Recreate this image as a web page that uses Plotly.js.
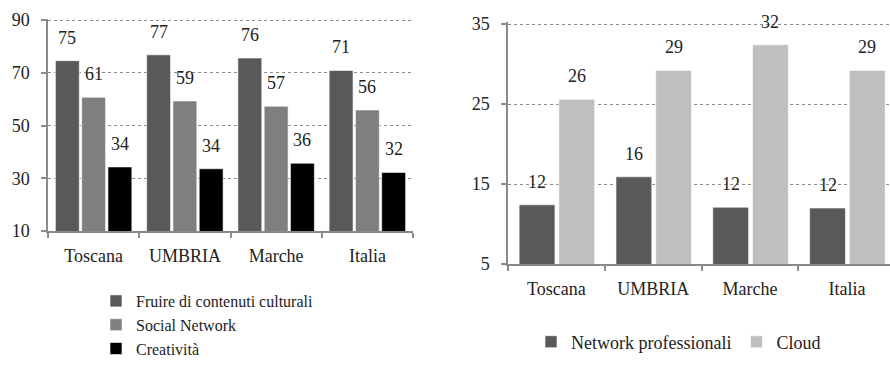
<!DOCTYPE html>
<html>
<head>
<meta charset="utf-8">
<script src="https://cdn.plot.ly/plotly-3.0.1.min.js"></script>
<style>
html, body { margin: 0; padding: 0; background: #ffffff; overflow: hidden; font-family: 'Liberation Serif', serif; }
#chart { width: 890px; height: 366px; font-family: 'Liberation Serif', serif; }
</style>
</head>
<body>
<div id="chart"></div>
<script>
// ---- data ----
const categories = ["Toscana", "UMBRIA", "Marche", "Italia"];

const fruireCulturali = [74.6, 76.8, 75.6, 70.9];
const socialNetwork   = [60.7, 59.3, 57.3, 55.9];
const creativita      = [34.3, 33.6, 35.7, 32.2];

const networkProfessionali = [12.4, 15.9, 12.1, 12.0];
const cloud                = [25.6, 29.2, 32.4, 29.2];

const leftNames  = ["Fruire di contenuti culturali", "Social Network", "Creatività"];
const rightNames = ["Network professionali", "Cloud"];

// ---- style ----
const FONT = "Liberation Serif, serif";
const TXT = "#222222";
const AX = "#8a8a8a";
const leftColors  = ["#595959", "#7f7f7f", "#000000"];
const rightColors = ["#595959", "#bfbfbf"];

const leftW = 0.262, leftOff = [-0.419, -0.131, 0.157];
const rightW = 0.37, rightOff = [-0.385, 0.025];

const leftSeries = [fruireCulturali, socialNetwork, creativita];
const rightSeries = [networkProfessionali, cloud];

const traces = [];
const annotations = [];

leftSeries.forEach((vals, k) => {
  traces.push({
    type: "bar", x: categories, y: vals, name: leftNames[k],
    xaxis: "x", yaxis: "y", legend: "legend",
    width: leftW, offset: leftOff[k],
    marker: { color: leftColors[k], line: { color: "#ffffff", width: 0.6 } },
    hoverinfo: "skip"
  });
  vals.forEach((v, i) => {
    annotations.push({
      xref: "x", yref: "y", x: i + leftOff[k] + leftW / 2, y: v,
      text: v.toFixed(0), showarrow: false, yshift: 23,
      font: { size: 18 }
    });
  });
});

rightSeries.forEach((vals, k) => {
  traces.push({
    type: "bar", x: categories, y: vals, name: rightNames[k],
    xaxis: "x2", yaxis: "y2", legend: "legend2",
    width: rightW, offset: rightOff[k],
    marker: { color: rightColors[k], line: { color: "#ffffff", width: 0.6 } },
    hoverinfo: "skip"
  });
  vals.forEach((v, i) => {
    annotations.push({
      xref: "x2", yref: "y2", x: i + rightOff[k] + rightW / 2, y: v,
      text: v.toFixed(0), showarrow: false, yshift: 23,
      font: { size: 18 }
    });
  });
});

function xAxis(domain, range, anchor) {
  return {
    domain: domain, anchor: anchor, type: "category", range: range,
    showline: true, linecolor: AX, linewidth: 1.5,
    ticks: "outside", tickson: "boundaries", ticklen: 5, tickcolor: AX, tickwidth: 1.5,
    ticklabelstandoff: 8, tickangle: 0,
    showgrid: false, zeroline: false, automargin: false, fixedrange: true,
    tickfont: { size: 18 }
  };
}
function yAxis(domain, range, tick0, dtick, anchor) {
  return {
    domain: domain, anchor: anchor, range: range, tick0: tick0, dtick: dtick,
    showline: true, linecolor: AX, linewidth: 1.5,
    ticks: "outside", ticklen: 5, tickcolor: AX, tickwidth: 1.5,
    ticklabelstandoff: 8,
    showgrid: true, gridcolor: AX, griddash: "dot", gridwidth: 1.2,
    zeroline: false, automargin: false, fixedrange: true,
    tickfont: { size: 18 }
  };
}

const layout = {
  width: 890, height: 366,
  margin: { l: 0, r: 0, t: 0, b: 0, pad: 0 },
  paper_bgcolor: "#ffffff", plot_bgcolor: "rgba(0,0,0,0)",
  barmode: "overlay",
  font: { family: FONT, size: 18, color: TXT },
  xaxis: xAxis([48 / 890, 413 / 890], [-0.5, 3.5], "y"),
  yaxis: yAxis([(366 - 231) / 366, (366 - 18.7) / 366], [10, 90.5], 10, 20, "x"),
  xaxis2: xAxis([508 / 890, 1], [-0.5, 3.445], "y2"),
  yaxis2: yAxis([(366 - 264) / 366, (366 - 22.4) / 366], [5, 35.2], 5, 10, "x2"),
  legend: {
    orientation: "v", x: 96 / 890, xanchor: "left", y: 0, yanchor: "bottom",
    bgcolor: "rgba(0,0,0,0)", borderwidth: 0, tracegroupgap: 0,
    font: { size: 16 }
  },
  legend2: {
    orientation: "h", x: 531 / 890, xanchor: "left", y: (366 - 342) / 366, yanchor: "middle",
    bgcolor: "rgba(0,0,0,0)", borderwidth: 0,
    font: { size: 18 }
  },
  annotations: annotations,
  showlegend: true
};

Plotly.newPlot("chart", traces, layout, { displayModeBar: false });
</script>
</body>
</html>
